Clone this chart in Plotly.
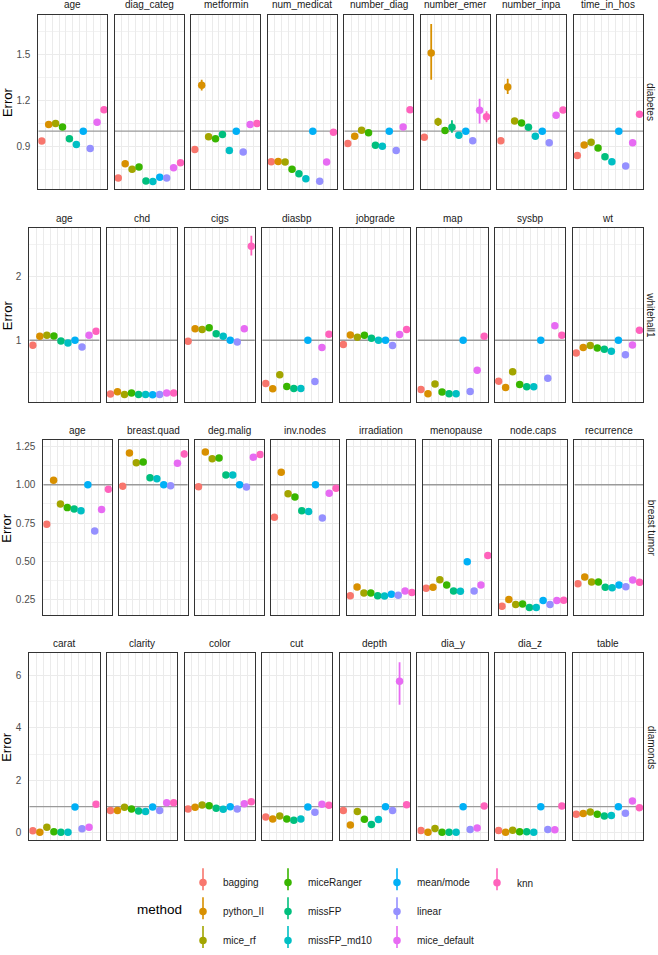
import plotly.graph_objects as go
from plotly.subplots import make_subplots

# ---------------- data ----------------
methods = ["bagging", "python_II", "mice_rf", "miceRanger", "missFP",
           "missFP_md10", "mean/mode", "linear", "mice_default", "knn"]
colors = ["#F8766D", "#D89000", "#A3A500", "#39B600", "#00BF7D",
          "#00BFC4", "#00B0F6", "#9590FF", "#E76BF3", "#FF62BC"]

datasets = ["diabetes", "whitehall1", "breast tumor", "diamonds"]

diabetes_vars = ["age", "diag_categ", "metformin", "num_medicat",
                 "number_diag", "number_emer", "number_inpa", "time_in_hos"]
diabetes_vals = [
    [0.935, 1.043, 1.050, 1.028, 0.950, 0.913, 1.000, 0.887, 1.059, 1.141],
    [0.693, 0.787, 0.750, 0.765, 0.674, 0.670, 0.698, 0.693, 0.761, 0.793],
    [0.880, 1.300, 0.963, 0.950, 0.978, 0.874, 1.000, 0.863, 1.043, 1.050],
    [0.800, 0.802, 0.798, 0.750, 0.722, 0.689, 1.000, 0.672, 0.798, 0.993],
    [0.920, 0.967, 1.006, 0.989, 0.907, 0.902, 1.000, 0.874, 1.028, 1.141],
    [0.961, 1.511, 1.061, 1.004, 1.026, 0.974, 1.000, 0.937, 1.137, 1.094],
    [0.937, 1.289, 1.067, 1.054, 1.026, 0.967, 1.000, 0.924, 1.104, 1.139],
    [0.841, 0.909, 0.928, 0.889, 0.833, 0.800, 1.000, 0.772, 0.924, 1.111],
]

whitehall_vars = ["age", "chd", "cigs", "diasbp", "jobgrade", "map", "sysbp", "wt"]
whitehall_vals = [
    [0.922, 1.063, 1.078, 1.068, 0.990, 0.958, 1.000, 0.896, 1.078, 1.141],
    [0.156, 0.193, 0.151, 0.172, 0.151, 0.151, 0.146, 0.151, 0.172, 0.172],
    [0.984, 1.182, 1.167, 1.198, 1.104, 1.063, 1.000, 0.974, 1.182, 2.474],
    [0.323, 0.240, 0.458, 0.276, 0.245, 0.245, 1.000, 0.354, 0.885, 1.094],
    [0.932, 1.083, 1.047, 1.078, 1.031, 1.000, 1.000, 0.917, 1.089, 1.167],
    [0.229, 0.161, 0.313, 0.188, 0.161, 0.161, 1.000, 0.198, 0.531, 1.063],
    [0.359, 0.260, 0.505, 0.307, 0.271, 0.271, 1.000, 0.406, 1.229, 1.078],
    [0.802, 0.885, 0.917, 0.880, 0.859, 0.828, 1.000, 0.771, 0.927, 1.156],
]

breast_vars = ["age", "breast.quad", "deg.malig", "inv.nodes",
               "irradiation", "menopause", "node.caps", "recurrence"]
breast_vals = [
    [0.742, 1.030, 0.874, 0.851, 0.842, 0.831, 1.000, 0.699, 0.838, 0.970],
    [0.991, 1.208, 1.143, 1.149, 1.045, 1.039, 1.000, 0.994, 1.141, 1.201],
    [0.987, 1.214, 1.169, 1.175, 1.063, 1.063, 1.000, 0.985, 1.180, 1.197],
    [0.788, 1.082, 0.942, 0.920, 0.831, 0.825, 1.000, 0.784, 0.944, 0.978],
    [0.277, 0.333, 0.294, 0.294, 0.277, 0.275, 0.286, 0.279, 0.307, 0.297],
    [0.325, 0.331, 0.381, 0.346, 0.307, 0.305, 0.498, 0.307, 0.346, 0.539],
    [0.208, 0.251, 0.219, 0.223, 0.199, 0.199, 0.245, 0.219, 0.245, 0.247],
    [0.355, 0.398, 0.366, 0.366, 0.331, 0.329, 0.346, 0.335, 0.379, 0.364],
]

diamonds_vars = ["carat", "clarity", "color", "cut", "depth", "dia_y", "dia_z", "table"]
diamonds_vals = [
    [0.076, 0.025, 0.215, 0.038, 0.025, 0.025, 0.987, 0.152, 0.215, 1.089],
    [0.848, 0.848, 0.975, 0.911, 0.835, 0.810, 0.987, 0.848, 1.152, 1.152],
    [0.911, 0.975, 1.063, 1.038, 0.937, 0.899, 1.000, 0.911, 1.114, 1.190],
    [0.608, 0.532, 0.646, 0.532, 0.481, 0.532, 0.987, 0.785, 1.089, 1.050],
    [0.848, 0.304, 0.810, 0.519, 0.316, 0.506, 1.000, 0.848, 5.785, 1.076],
    [0.089, 0.025, 0.165, 0.025, 0.025, 0.025, 1.000, 0.127, 0.190, 1.025],
    [0.089, 0.025, 0.101, 0.038, 0.038, 0.025, 1.000, 0.127, 0.114, 1.025],
    [0.709, 0.734, 0.797, 0.709, 0.646, 0.658, 1.000, 0.747, 1.215, 0.962],
]

# error bars: (dataset, variable, method) -> (minus, plus)
errors = {
    ("diabetes", "metformin", "python_II"): (0.033, 0.037),
    ("diabetes", "number_emer", "python_II"): (0.174, 0.190),
    ("diabetes", "number_emer", "mice_rf"): (0.027, 0.027),
    ("diabetes", "number_emer", "missFP"): (0.037, 0.046),
    ("diabetes", "number_emer", "mice_default"): (0.087, 0.076),
    ("diabetes", "number_emer", "knn"): (0.036, 0.036),
    ("diabetes", "number_inpa", "python_II"): (0.045, 0.055),
    ("whitehall1", "cigs", "knn"): (0.146, 0.166),
    ("breast tumor", "age", "knn"): (0.018, 0.018),
    ("breast tumor", "breast.quad", "knn"): (0.022, 0.022),
    ("diamonds", "depth", "mice_default"): (0.90, 0.72),
}

reference_level = 1.0

row_vars = [diabetes_vars, whitehall_vars, breast_vars, diamonds_vars]
row_vals = [diabetes_vals, whitehall_vals, breast_vals, diamonds_vals]

y_ranges = [[0.62, 1.761], [0.027, 2.76], [0.148, 1.291], [-0.29, 6.85]]
y_ticks = [[0.9, 1.2, 1.5], [1, 2], [0.25, 0.5, 0.75, 1.0, 1.25], [0, 2, 4, 6]]
y_ticktext = [["0.9", "1.2", "1.5"], ["1", "2"],
              ["0.25", "0.50", "0.75", "1.00", "1.25"], ["0", "2", "4", "6"]]
y_minor = [(0.75, 0.3), (0.5, 1.0), (0.125, 0.25), (1, 2)]

# ---------------- layout geometry (pixels) ----------------
W, H = 658, 955
row_left = [38.3, 29.3, 43.3, 29.3]
panel_right = 643.0
gap = 7.33
row_pix = [(15, 190), (229, 404), (442, 618), (656, 844)]

FONT = "Liberation Sans, Arial, Helvetica, sans-serif"
legend_of = ["legend", "legend", "legend", "legend2", "legend2",
             "legend2", "legend3", "legend3", "legend3", "legend4"]

fig = make_subplots(rows=4, cols=8)

x_pos = list(range(1, 11))
for r in range(4):
    ds = datasets[r]
    for c in range(8):
        var = row_vars[r][c]
        vals = row_vals[r][c]
        # grey reference line at Error = 1 (drawn first, beneath points)
        fig.add_trace(go.Scatter(
            x=[0.5, 10.5], y=[reference_level, reference_level], mode="lines",
            line=dict(color="#9a9a9a", width=1.4), showlegend=False,
            hoverinfo="skip", cliponaxis=True), row=r + 1, col=c + 1)
        for m, meth in enumerate(methods):
            e = errors.get((ds, var, meth))
            tr = go.Scatter(
                x=[x_pos[m]], y=[vals[m]], mode="markers",
                marker=dict(color=colors[m], size=7.5, line=dict(width=0)),
                name=meth, legendgroup=meth,
                showlegend=(r == 0 and c == 0),
                legend=legend_of[m],
                hovertemplate=f"{ds} / {var}<br>{meth}: %{{y:.3f}}<extra></extra>",
            )
            if e is not None:
                tr.error_y = dict(type="data", symmetric=False, array=[e[1]],
                                  arrayminus=[e[0]], color=colors[m],
                                  thickness=1.8, width=0)
            fig.add_trace(tr, row=r + 1, col=c + 1)

# axes
col_geom = []
for r in range(4):
    w = (panel_right - row_left[r] - 7 * gap) / 8
    col_geom.append([(row_left[r] + c * (w + gap), w) for c in range(8)])

for r in range(4):
    y0p, y1p = row_pix[r]
    for c in range(8):
        n = r * 8 + c + 1
        left, w = col_geom[r][c]
        xa = "xaxis" if n == 1 else f"xaxis{n}"
        ya = "yaxis" if n == 1 else f"yaxis{n}"
        fig.layout[xa].update(
            domain=[left / W, (left + w) / W],
            range=[0.5, 10.5], showticklabels=False, ticks="",
            tickvals=[i + 0.5 for i in range(1, 10)],
            showgrid=True, gridcolor="#ebebeb", gridwidth=1,
            zeroline=False, showline=True, mirror=True,
            linecolor="#333333", linewidth=1,
        )
        fig.layout[ya].update(
            domain=[1 - y1p / H, 1 - y0p / H],
            range=y_ranges[r], tickvals=y_ticks[r], ticktext=y_ticktext[r],
            showticklabels=(c == 0), ticks="",
            ticklabelstandoff=5,
            tickfont=dict(size=10, color="#4d4d4d", family=FONT),
            showgrid=True, gridcolor="#ebebeb", gridwidth=1.1,
            minor=dict(tick0=y_minor[r][0], dtick=y_minor[r][1], showgrid=True,
                       gridcolor="#f2f2f2", gridwidth=0.6),
            zeroline=False, showline=True, mirror=True,
            linecolor="#333333", linewidth=1,
        )

annotations = []
for r in range(4):
    y0p, y1p = row_pix[r]
    for c in range(8):
        left, w = col_geom[r][c]
        annotations.append(dict(
            text=row_vars[r][c], xref="paper", yref="paper",
            x=(left + w / 2) / W, y=1 - (y0p - 10) / H,
            showarrow=False, xanchor="center", yanchor="middle",
            font=dict(size=10, color="#1a1a1a", family=FONT)))
    annotations.append(dict(
        text=datasets[r], xref="paper", yref="paper",
        x=651 / W, y=1 - (y0p + y1p) / 2 / H, textangle=90,
        showarrow=False, xanchor="center", yanchor="middle",
        font=dict(size=10, color="#1a1a1a", family=FONT)))
    annotations.append(dict(
        text="Error", xref="paper", yref="paper",
        x=7 / W, y=1 - (y0p + y1p) / 2 / H, textangle=-90,
        showarrow=False, xanchor="center", yanchor="middle",
        font=dict(size=13, color="#000000", family=FONT)))

annotations.append(dict(
    text="method", xref="paper", yref="paper", x=159 / W, y=1 - 913 / H,
    showarrow=False, xanchor="center", yanchor="middle",
    font=dict(size=13.5, color="#000000", family=FONT)))

# legend key vertical strokes (pointrange look)
key_x = [203, 203, 203, 288, 288, 288, 397, 397, 397, 497]
key_y = [883, 912, 941, 883, 912, 941, 883, 912, 941, 883]
shapes = []
for m in range(10):
    shapes.append(dict(type="line", xref="paper", yref="paper",
                       x0=key_x[m] / W, x1=key_x[m] / W,
                       y0=1 - (key_y[m] - 11) / H, y1=1 - (key_y[m] + 11) / H,
                       line=dict(color=colors[m], width=1.6), layer="above"))

leg_common = dict(orientation="v", yanchor="top", xanchor="left",
                  bgcolor="rgba(0,0,0,0)", tracegroupgap=10,
                  font=dict(size=10, color="#1a1a1a", family=FONT),
                  itemsizing="trace")
leg_top = 1 - 872 / H

fig.update_layout(
    width=W, height=H, margin=dict(l=0, r=0, t=0, b=0),
    paper_bgcolor="white", plot_bgcolor="white",
    font=dict(family=FONT),
    annotations=annotations,
    shapes=shapes,
    legend=dict(x=183 / W, y=leg_top, **leg_common),
    legend2=dict(x=268 / W, y=leg_top, **leg_common),
    legend3=dict(x=377 / W, y=leg_top, **leg_common),
    legend4=dict(x=477 / W, y=leg_top, **leg_common),
)

fig.write_html("out.html")
